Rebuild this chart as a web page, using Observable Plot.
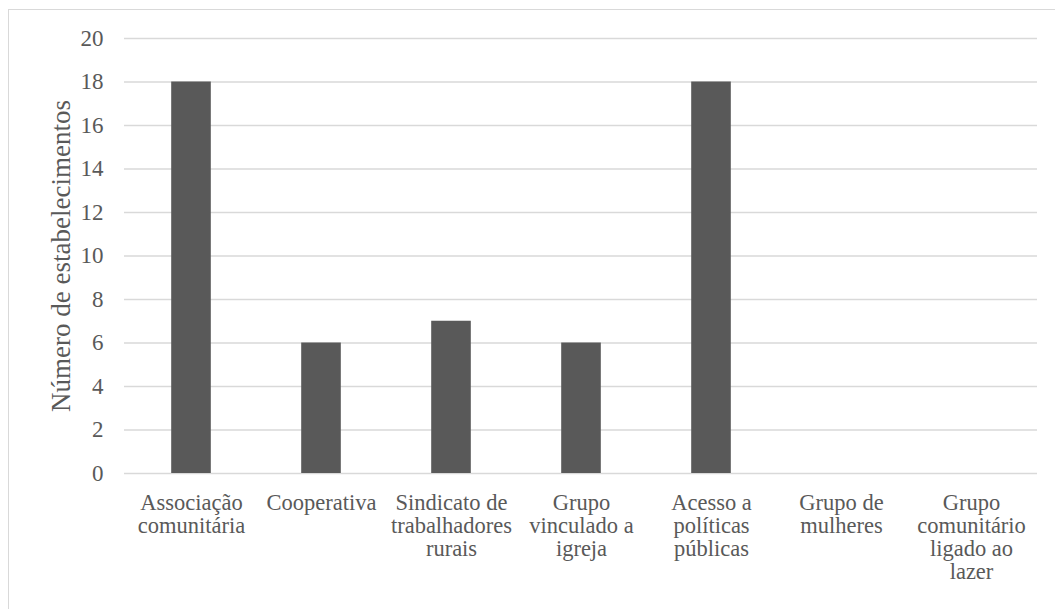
<!DOCTYPE html>
<html><head><meta charset="utf-8">
<script src="https://cdn.jsdelivr.net/npm/d3@7"></script>
<script src="https://cdn.jsdelivr.net/npm/@observablehq/plot@0.6"></script>
<style>
html,body{margin:0;padding:0;background:#fff;overflow:hidden;width:1055px;height:609px;}
#frame{position:absolute;left:8px;top:9px;width:1100px;height:700px;border:1px solid #d9d9d9;box-sizing:border-box;}
#chart{position:absolute;left:0;top:0;}
#chart svg, #chart svg text{font-family:"Liberation Serif","Times New Roman",serif !important;}
</style></head><body>
<div id="frame"></div><div id="chart"></div>
<script>
const categories = [
  "Associação comunitária",
  "Cooperativa",
  "Sindicato de trabalhadores rurais",
  "Grupo vinculado a igreja",
  "Acesso a políticas públicas",
  "Grupo de mulheres",
  "Grupo comunitário ligado ao lazer"
];
const tickLabels = [
  "Associação\ncomunitária",
  "Cooperativa",
  "Sindicato de\ntrabalhadores\nrurais",
  "Grupo\nvinculado a\nigreja",
  "Acesso a\npolíticas\npúblicas",
  "Grupo de\nmulheres",
  "Grupo\ncomunitário\nligado ao\nlazer"
];
const values = [18, 6, 7, 6, 18, 0, 0];
const yTicks = [0, 2, 4, 6, 8, 10, 12, 14, 16, 18, 20];
const yLabel = "Número de estabelecimentos";

const data = categories.map((c, i) => ({category: c, value: values[i]}));
const labelOf = new Map(categories.map((c, i) => [c, tickLabels[i]]));

const chart = Plot.plot({
  width: 1055,
  height: 609,
  marginLeft: 124,
  marginRight: 18,
  marginTop: 38,
  marginBottom: 136,
  style: {fontFamily: "Liberation Serif, serif", fontSize: "23px", color: "#595959", background: "transparent"},
  x: {domain: categories, padding: 0},
  y: {domain: [0, 20]},
  marks: [
    Plot.gridY({ticks: yTicks, stroke: "#d9d9d9", strokeOpacity: 1, strokeWidth: 1.3}),
    Plot.barY(data, {x: "category", y: "value", fill: "#595959", insetLeft: 45.2, insetRight: 45.2}),
    Plot.axisX({tickSize: 0, tickPadding: 20, lineHeight: 1.02, label: null, tickFormat: d => labelOf.get(d), fontSize: 22.5}),
    Plot.axisY({ticks: yTicks, tickSize: 0, tickPadding: 21, fontSize: 23, label: null}),
    Plot.axisY({ticks: [], tickSize: 0, label: yLabel, labelAnchor: "center", labelArrow: "none", labelOffset: 74, fontSize: 27})
  ]
});
document.getElementById("chart").appendChild(chart);
</script>
</body></html>
